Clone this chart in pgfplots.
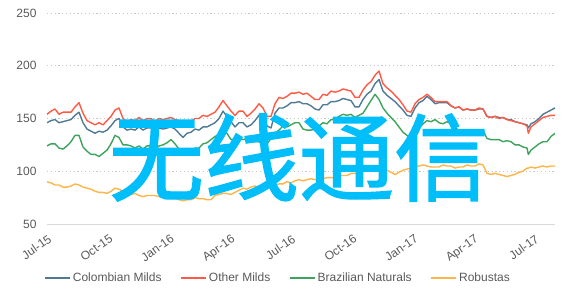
\documentclass[border=0pt]{standalone}
\usepackage{pgfplots}
\pgfplotsset{compat=1.18}
\usepackage{pgfplotstable}
\usepackage{fontspec}
\setmainfont{Liberation Sans}
\newfontfamily\cjk[FakeBold=1.5]{Noto Sans CJK SC}
\definecolor{txtgray}{HTML}{595959}
\definecolor{gridgray}{HTML}{C8C8C8}
\definecolor{axgray}{HTML}{D9D9D9}
\definecolor{cColo}{HTML}{4E7A96}
\definecolor{cOther}{HTML}{FF5A45}
\definecolor{cBraz}{HTML}{3DA35D}
\definecolor{cRob}{HTML}{FFB547}
\definecolor{wm}{RGB}{0,190,250}
\pgfplotstableread{
d C O B R
0 146 154 124 90
6 148 157 126 89
12 149 159 126 87
18 146 154 122 87
24 147 156 121 85
30 148 156 124 85
36 149 156 128 86
42 153 161 134 88
48 156 165 134 87
54 146 155 123 85
60 140 148 119 84
66 138 146 116 83
72 136 144 116 81
78 138 146 114 80
84 137 144 117 80
90 139 148 120 79
96 143 152 126 81
102 148 158 134 84
108 150 160 132 83
114 142 150 125 81
120 139 147 125 79
126 140 149 124 78
132 139 148 122 79
138 142 151 124 77
144 139 148 121 76
150 141 150 124 77
156 141 150 124 77
162 139 147 121 77
168 141 150 124 76
174 140 149 125 76
180 141 150 127 75
186 142 151 130 76
192 140 149 126 75
198 136 148 121 73
204 132 146 119 72
210 136 147 119 73
216 137 147 120 73
222 140 150 122 75
228 139 150 122 74
234 142 153 126 74
240 142 152 127 73
246 144 154 130 73
252 146 156 133 77
258 150 161 135 78
264 157 167 136 79
270 152 162 136 79
276 147 157 130 78
282 142 153 130 80
288 146 157 131 82
294 146 157 130 84
300 142 152 131 83
306 144 155 128 85
312 148 159 128 86
318 153 164 128 85
324 150 160 125 85
330 143 152 126 86
336 141 152 131 85
342 155 164 136 87
348 160 170 139 88
354 160 169 143 88
360 162 171 142 90
366 165 174 144 89
372 165 174 146 91
378 166 175 146 92
384 164 173 140 91
390 164 174 139 92
396 162 171 139 93
402 159 168 140 92
408 158 168 143 93
414 163 173 146 93
420 163 172 145 94
426 166 176 149 94
432 166 175 149 94
438 167 176 152 96
444 169 178 154 96
450 168 177 153 96
456 167 176 154 98
462 161 170 151 98
468 161 170 153 98
474 168 177 155 100
480 173 182 161 102
486 176 185 167 102
492 183 191 173 104
498 187 195 168 104
504 176 183 160 104
510 172 179 155 101
516 169 176 151 99
522 166 172 147 97
528 162 168 142 99
534 158 163 137 101
540 153 157 134 102
546 152 156 131 103
552 160 164 137 104
558 165 168 141 105
564 167 170 145 106
570 171 173 148 105
576 168 170 147 104
582 164 166 149 104
588 165 166 146 104
594 165 166 145 106
600 165 166 147 105
606 162 162 145 105
612 160 160 141 103
618 161 161 139 104
624 158 158 137 104
630 159 159 136 106
636 158 158 138 105
642 158 158 137 105
648 159 160 138 107
654 159 159 139 106
660 152 152 131 98
666 151 151 130 97
672 152 152 130 98
678 151 150 130 97
684 151 151 128 96
690 149 149 129 95
696 149 148 128 96
702 147 147 125 97
708 146 146 125 99
714 145 145 123 100
720 144 143 122 103
722 141 136 116 103
726 145 142 120 104
732 147 145 123 103
738 150 148 126 104
744 154 151 128 105
750 156 152 128 104
756 158 153 133 105
762 160 153 136 105
}\coffee
\begin{document}
\begin{tikzpicture}
\useasboundingbox (-47pt,-69pt) rectangle (528pt,224pt);
\begin{axis}[
  scale only axis,
  width=508pt, height=211pt,
  xmin=0, xmax=762, ymin=50, ymax=250,
  axis x line*=bottom, axis y line*=left,
  x axis line style={draw=axgray, line width=0.8pt},
  y axis line style={draw=none},
  major tick length=0pt,
  ytick={50,100,150,200,250},
  xtick={0,92,184,275,366,458,550,640,731},
  xticklabels={Jul-15,Oct-15,Jan-16,Apr-16,Jul-16,Oct-16,Jan-17,Apr-17,Jul-17},
  /pgf/number format/assume math mode=true,
  tick label style={font=\fontsize{12}{14}\selectfont, text=txtgray},
  yticklabel style={xshift=-7pt},
  xticklabel style={rotate=35, anchor=north east, yshift=-5pt, xshift=-2pt},
  ymajorgrids,
  grid style={draw=gridgray, line width=0.9pt, dash pattern=on 1.2pt off 2.6pt},
  legend columns=4,
  legend style={at={(0.455,-0.256)}, anchor=center, draw=none, fill=none,
    font=\fontsize{12}{14}\selectfont, text=txtgray,
    /tikz/every even column/.append style={column sep=17pt}},
  legend image code/.code={\draw[#1] (0pt,0pt) -- (25pt,0pt);},
  every axis plot/.append style={line width=1.4pt, line join=round},
]
\addplot[cColo] table[x=d, y=C] {\coffee};
\addlegendentry{Colombian Milds}
\addplot[cOther] table[x=d, y=O] {\coffee};
\addlegendentry{Other Milds}
\addplot[cBraz] table[x=d, y=B] {\coffee};
\addlegendentry{Brazilian Naturals}
\addplot[cRob] table[x=d, y=R] {\coffee};
\addlegendentry{Robustas}
\node[text=wm, font=\cjk\fontsize{95}{95}\selectfont, inner sep=0pt, anchor=center] at (axis cs:378,113) {无线通信};
\end{axis}
\end{tikzpicture}
\end{document}
